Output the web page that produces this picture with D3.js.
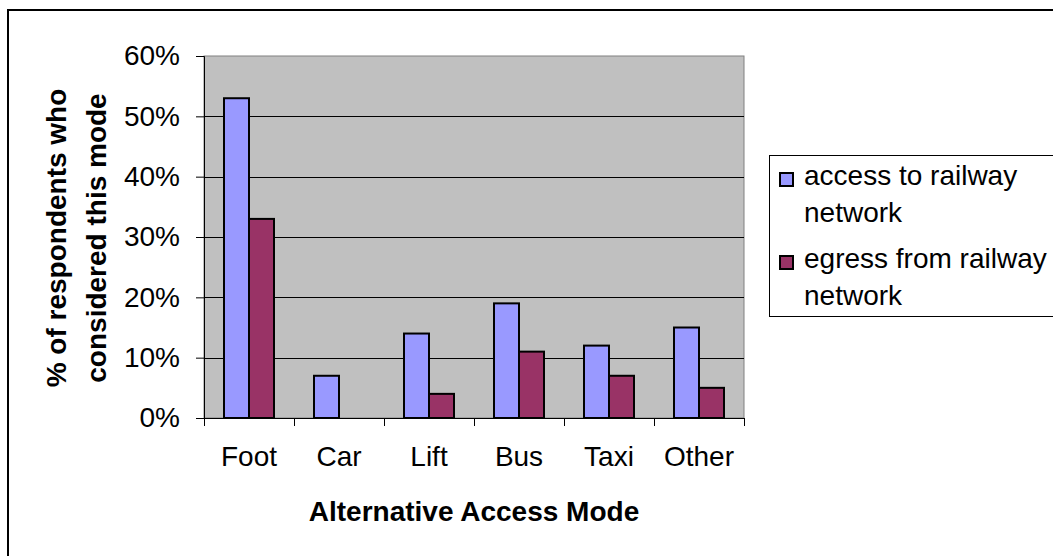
<!DOCTYPE html>
<html>
<head>
<meta charset="utf-8">
<script src="https://cdn.jsdelivr.net/npm/d3@7"></script>
<style>
  html, body { margin: 0; padding: 0; background: #fff; }
  svg { display: block; font-family: "Liberation Sans", Arial, sans-serif; }
</style>
</head>
<body>
<svg id="chart" width="1053" height="556"></svg>
<script>
// Survey data: share of respondents who considered each alternative mode
const categories = ["Foot", "Car", "Lift", "Bus", "Taxi", "Other"];
const seriesNames = ["access to railway network", "egress from railway network"];
const accessValues = [0.53, 0.07, 0.14, 0.19, 0.12, 0.15];
const egressValues = [0.33, 0.00, 0.04, 0.11, 0.07, 0.05];
const yTicks = [0, 0.1, 0.2, 0.3, 0.4, 0.5, 0.6];
const seriesColors = ["#9999FF", "#993366"];

const FONT = "'Liberation Sans', Arial, sans-serif";
const svg = d3.select("#chart");

// Outer chart frame (runs past the right and bottom edges)
svg.append("rect")
  .attr("x", 8).attr("y", 10)
  .attr("width", 1100).attr("height", 600)
  .attr("fill", "#fff").attr("stroke", "#000").attr("stroke-width", 2);

const plot = { left: 204, top: 56, right: 744, bottom: 418 };

const x = d3.scaleBand().domain(categories)
  .range([plot.left, plot.right]).paddingInner(0).paddingOuter(0);
// two bars side by side, occupying the middle 50 of each 90px slot
const x1 = d3.scaleBand().domain([0, 1])
  .range([20 / 90 * x.bandwidth(), 70 / 90 * x.bandwidth()]);

const y = d3.scaleLinear().domain([0, 0.6]).range([plot.bottom, plot.top]);

// Plot background
svg.append("rect")
  .attr("x", plot.left).attr("y", plot.top)
  .attr("width", plot.right - plot.left).attr("height", plot.bottom - plot.top)
  .attr("fill", "#C0C0C0").attr("stroke", "#808080").attr("stroke-width", 1);

// Horizontal gridlines
svg.append("g").selectAll("line")
  .data(yTicks.filter(t => t > 0 && t < 0.6))
  .join("line")
  .attr("x1", plot.left).attr("x2", plot.right)
  .attr("y1", d => Math.round(y(d)) + 0.5).attr("y2", d => Math.round(y(d)) + 0.5)
  .attr("stroke", "#000").attr("stroke-width", 1);

// Bars
const groups = svg.append("g").selectAll("g")
  .data(categories.map((c, i) => ({ c, vals: [accessValues[i], egressValues[i]] })))
  .join("g")
  .attr("transform", d => `translate(${x(d.c)},0)`);

groups.selectAll("rect")
  .data(d => d.vals.map((v, k) => ({ v, k })).filter(e => e.v > 0))
  .join("rect")
  .attr("x", d => x1(d.k))
  .attr("y", d => y(d.v))
  .attr("width", x1.bandwidth())
  .attr("height", d => y(0) - y(d.v))
  .attr("fill", d => seriesColors[d.k])
  .attr("stroke", "#000").attr("stroke-width", 2);

// Y axis
const yAxis = svg.append("g")
  .attr("transform", `translate(${plot.left},0)`)
  .call(d3.axisLeft(y).tickValues(yTicks).tickFormat(d3.format(".0%")).tickSize(8).tickPadding(16));
yAxis.select(".domain").attr("stroke", "#000");
yAxis.selectAll(".tick line").attr("stroke", "#000");
yAxis.selectAll("text").attr("font-size", 28).attr("fill", "#000").attr("font-family", FONT);

// X axis
const xAxis = svg.append("g")
  .attr("transform", `translate(0,${plot.bottom})`)
  .call(d3.axisBottom(x).tickSize(0).tickPadding(28));
xAxis.select(".domain").attr("stroke", "#000");
xAxis.selectAll("text").attr("font-size", 28).attr("fill", "#000").attr("font-family", FONT);
// category separators
svg.append("g").selectAll("line")
  .data(d3.range(categories.length + 1))
  .join("line")
  .attr("x1", i => plot.left + i * x.step() + 0.5)
  .attr("x2", i => plot.left + i * x.step() + 0.5)
  .attr("y1", plot.bottom).attr("y2", plot.bottom + 8)
  .attr("stroke", "#000");

// Axis titles
svg.append("text")
  .attr("x", 474).attr("y", 521)
  .attr("text-anchor", "middle")
  .attr("font-size", 28).attr("font-weight", "bold")
  .text("Alternative Access Mode");

const yTitle = svg.append("text")
  .attr("transform", "translate(0,238) rotate(-90)")
  .attr("text-anchor", "middle")
  .attr("font-size", 28).attr("font-weight", "bold");
yTitle.append("tspan").attr("x", 0).attr("y", 66).text("% of respondents who");
yTitle.append("tspan").attr("x", 0).attr("y", 106).text("considered this mode");

// Legend
const legend = svg.append("g");
legend.append("rect")
  .attr("x", 769.5).attr("y", 155.5)
  .attr("width", 320).attr("height", 161)
  .attr("fill", "#fff").attr("stroke", "#000").attr("stroke-width", 1);

const legendLines = [["access to railway", "network"], ["egress from railway", "network"]];
seriesNames.forEach((name, k) => {
  const top = 173 + k * 83;
  legend.append("rect")
    .attr("x", 780).attr("y", top)
    .attr("width", 13).attr("height", 13)
    .attr("fill", seriesColors[k]).attr("stroke", "#000").attr("stroke-width", 2);
  const t = legend.append("text").attr("font-size", 28).attr("fill", "#000");
  legendLines[k].forEach((ln, j) => {
    t.append("tspan").attr("x", 804).attr("y", top + 12 + j * 37).text(ln);
  });
});
</script>
</body>
</html>
